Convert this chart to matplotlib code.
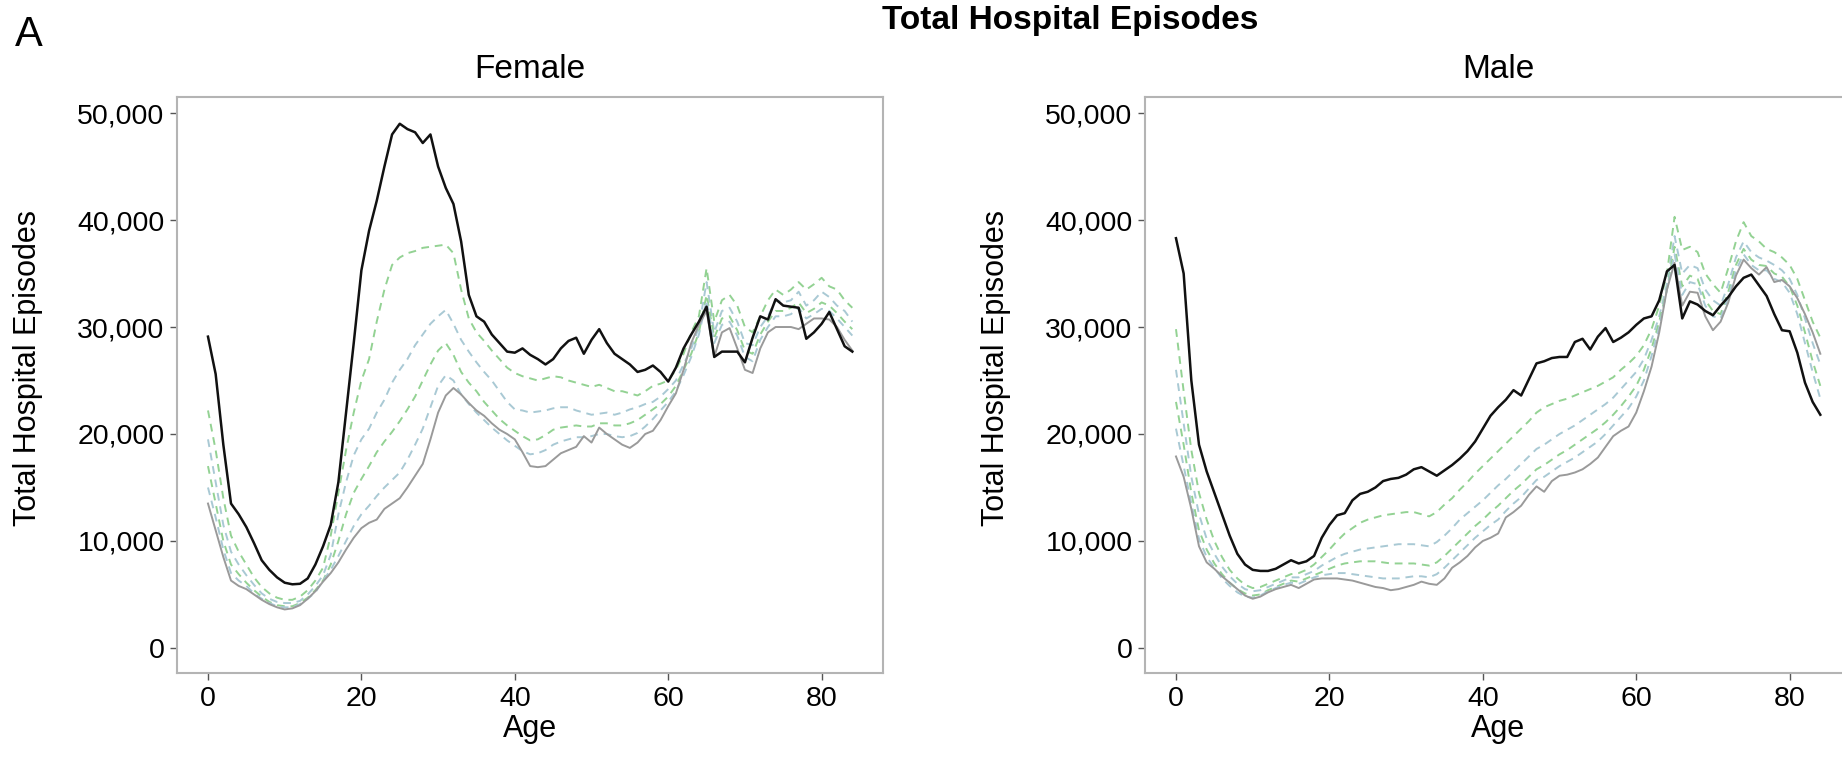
#!/usr/bin/env python
"""Total hospital episodes by age, female and male panels."""

import matplotlib
matplotlib.use("Agg")
import matplotlib.pyplot as plt
from matplotlib.ticker import FuncFormatter, MultipleLocator

# Data (ages 0..84)
ages = list(range(85))

female_black = [29100, 25600, 19000, 13500, 12500, 11300, 9800, 8200, 7300, 6600,
                6100, 5950, 6000, 6500, 7800, 9500, 11500, 15500, 22000, 28500,
                35300, 39000, 41800, 45000, 48000, 49000, 48500, 48200, 47200, 48000,
                45000, 43000, 41500, 38000, 33000, 31000, 30500, 29300, 28500, 27700,
                27600, 28000, 27400, 27000, 26500, 27000, 28000, 28700, 29000, 27500,
                28800, 29800, 28500, 27500, 27000, 26500, 25800, 26000, 26400, 25800,
                24900, 26200, 28000, 29300, 30500, 31900, 27200, 27700, 27700, 27700,
                26700, 29000, 31000, 30700, 32600, 32000, 31900, 31800, 28900, 29500,
                30300, 31400, 29800, 28200, 27700]
female_gray = [13500, 11000, 8500, 6300, 5800, 5500, 5000, 4500, 4100, 3800,
               3600, 3700, 4000, 4600, 5300, 6200, 7000, 8000, 9200, 10300,
               11200, 11700, 12000, 13000, 13500, 14000, 15000, 16100, 17200, 19500,
               22000, 23600, 24300, 23700, 22900, 22200, 21700, 21000, 20400, 20000,
               19500, 18300, 17000, 16900, 17000, 17600, 18200, 18500, 18800, 19800,
               19200, 20600, 20000, 19500, 19000, 18700, 19200, 20000, 20300, 21300,
               22600, 23800, 26000, 28500, 30200, 31500, 27200, 29500, 29900, 28000,
               26000, 25700, 28000, 29500, 30000, 30000, 30000, 29800, 30300, 30800,
               30800, 30700, 30000, 28800, 27800]
female_d1 = [22200, 18500, 14000, 10500, 9000, 7800, 6600, 5700, 5100, 4700,
             4500, 4500, 4800, 5400, 6300, 7500, 10500, 14500, 18500, 22000,
             25000, 27000, 30500, 33500, 35800, 36500, 36900, 37100, 37400, 37500,
             37600, 37700, 36900, 33500, 30800, 29500, 28700, 27800, 27000, 26200,
             25700, 25400, 25200, 25000, 25200, 25400, 25300, 25000, 24800, 24600,
             24400, 24600, 24300, 24000, 24000, 23800, 23600, 24000, 24500, 24700,
             25000, 26000, 27500, 29500, 31000, 35500, 30500, 32500, 33000, 32000,
             30000, 29500, 31000, 32500, 33500, 33000, 33500, 34200, 33500, 34000,
             34600, 33800, 33500, 32500, 31800]
female_d2 = [19500, 15500, 11500, 9000, 7800, 6800, 5900, 5100, 4600, 4300,
             4200, 4200, 4400, 5000, 5800, 6800, 8700, 12500, 15500, 18000,
             19500, 20500, 22000, 23200, 24800, 26000, 27000, 28300, 29300, 30300,
             31000, 31600, 30300, 28800, 27700, 26700, 25800, 25000, 24000, 23000,
             22300, 22200, 22000, 22100, 22200, 22400, 22500, 22500, 22200, 22000,
             21800, 21900, 22000, 21800, 22000, 22300, 22500, 22800, 23000, 23500,
             24200, 25000, 26500, 28000, 30000, 34200, 29500, 31500, 31800, 30500,
             28500, 28300, 30000, 31000, 32500, 32300, 32500, 33300, 32000, 32500,
             33300, 32800, 32000, 31500, 30500]
female_d3 = [17000, 13500, 10000, 7800, 6900, 6100, 5400, 4800, 4300, 4000,
             3900, 3900, 4200, 4700, 5400, 6300, 7800, 10000, 12500, 14500,
             15800, 17000, 18300, 19300, 20200, 21200, 22300, 23500, 25000, 26500,
             27800, 28500, 27400, 25800, 24800, 24000, 23000, 22200, 21400, 20800,
             20300, 19800, 19400, 19500, 19900, 20400, 20600, 20700, 20800, 20700,
             20700, 21000, 21000, 20800, 20800, 21000, 21300, 21800, 22300, 22800,
             23500, 24500, 26000, 27500, 29500, 33000, 29000, 30800, 31000, 29700,
             27800, 27500, 29300, 30500, 31500, 31500, 31800, 32300, 31300, 31700,
             32300, 32000, 31300, 30500, 29800]
female_d4 = [15000, 12200, 9200, 7000, 6300, 5800, 5100, 4600, 4200, 3900,
             3800, 3800, 4100, 4600, 5200, 6300, 7300, 8600, 10000, 11400,
             12500, 13300, 14200, 15000, 15700, 16400, 17600, 19000, 20500, 22500,
             24500, 25500, 25000, 23700, 22800, 22000, 21300, 20600, 20000, 19400,
             18900, 18400, 18100, 18200, 18500, 19000, 19300, 19500, 19700, 19700,
             19800, 20000, 20000, 19800, 19700, 19800, 20100, 20700, 21400, 22200,
             23000, 24000, 25500, 27200, 29300, 32500, 28500, 30200, 30500, 29200,
             27200, 26800, 28800, 30000, 31000, 31000, 31200, 31800, 30800, 31200,
             31700, 31500, 30800, 30000, 29200]

male_black = [38300, 35000, 25000, 19000, 16500, 14500, 12500, 10500, 8800, 7800,
              7300, 7200, 7200, 7400, 7800, 8200, 7900, 8100, 8600, 10300,
              11500, 12400, 12600, 13800, 14400, 14600, 15000, 15600, 15800, 15900,
              16200, 16700, 16900, 16500, 16100, 16600, 17100, 17700, 18400, 19300,
              20500, 21700, 22500, 23200, 24100, 23600, 25100, 26600, 26800, 27100,
              27200, 27200, 28600, 28900, 27900, 29100, 29900, 28600, 29000, 29500,
              30200, 30800, 31000, 32500, 35200, 35800, 30800, 32400, 32100, 31500,
              31100, 32000, 32800, 33800, 34600, 34900, 33900, 32900, 31200, 29700,
              29600, 27600, 24800, 23000, 21800]
male_gray = [17900, 16000, 13000, 9500, 8000, 7400, 6700, 6100, 5500, 4900,
             4600, 4800, 5200, 5500, 5700, 5900, 5600, 6000, 6400, 6500,
             6500, 6500, 6400, 6300, 6100, 5900, 5700, 5600, 5400, 5500,
             5700, 5900, 6200, 6000, 5900, 6500, 7500, 8000, 8600, 9400,
             10000, 10300, 10700, 12200, 12700, 13300, 14300, 15100, 14600, 15600,
             16100, 16200, 16400, 16700, 17200, 17800, 18800, 19800, 20300, 20700,
             22000, 24000, 26300, 29500, 33500, 36000, 32000, 33300, 33200, 31000,
             29700, 30500, 32300, 34800, 36300, 35500, 34900, 35600, 34200, 34400,
             33800, 32700, 31200, 29500, 27500]
male_d1 = [29800, 24000, 18500, 14500, 12000, 10000, 8500, 7300, 6500, 5900,
           5600, 5700, 6000, 6300, 6600, 6900, 7000, 7300, 7800, 8500,
           9200, 10000, 10700, 11200, 11700, 12000, 12200, 12400, 12500, 12600,
           12700, 12700, 12500, 12300, 12700, 13400, 14000, 14800, 15500, 16300,
           17000, 17700, 18400, 19100, 19800, 20500, 21200, 22000, 22500, 22800,
           23100, 23300, 23600, 23900, 24200, 24500, 24900, 25300, 26000, 26600,
           27300, 28300, 29800, 32000, 35000, 40300, 37200, 37500, 37000, 35000,
           34000, 33200, 35500, 38000, 39800, 38500, 38000, 37300, 37000, 36500,
           35800, 34500, 32500, 30500, 29000]
male_d2 = [26000, 21000, 16000, 12500, 10200, 8800, 7600, 6700, 6000, 5500,
           5300, 5400, 5700, 6000, 6300, 6600, 6600, 6900, 7200, 7700,
           8100, 8500, 8800, 9000, 9200, 9300, 9400, 9500, 9600, 9700,
           9700, 9700, 9600, 9500, 9900, 10500, 11200, 12000, 12600, 13200,
           13800, 14500, 15200, 15800, 16500, 17200, 17900, 18600, 19000, 19500,
           20000, 20400, 20800, 21300, 21800, 22300, 22800, 23400, 24200, 25000,
           25800, 27000, 28800, 31000, 34000, 38500, 35000, 35800, 35500, 33500,
           32500, 32000, 34000, 36500, 38000, 37000, 36500, 36200, 35800, 35300,
           34500, 33000, 30800, 28500, 26500]
male_d3 = [23000, 19000, 14500, 11000, 9200, 7900, 6900, 6100, 5500, 5100,
           4900, 5000, 5400, 5700, 6000, 6300, 6200, 6500, 6800, 7100,
           7400, 7700, 7900, 8000, 8100, 8100, 8100, 8000, 7900, 7900,
           7900, 7900, 7800, 7700, 8000, 8600, 9300, 10000, 10700, 11400,
           12000, 12700, 13300, 14000, 14700, 15300, 16000, 16700, 17100, 17600,
           18100, 18500, 19000, 19500, 20000, 20500, 21100, 21800, 22600, 23500,
           24500, 26000, 28000, 30500, 33500, 37500, 33800, 34800, 34500, 32500,
           31500, 31200, 33300, 35800, 37300, 36300, 35800, 35700, 35000, 34700,
           33800, 32000, 29500, 26800, 24500]
male_d4 = [20500, 17000, 13500, 10200, 8500, 7500, 6500, 5800, 5200, 4800,
           4700, 4900, 5300, 5600, 5900, 6100, 6000, 6300, 6600, 6800,
           6900, 7000, 7000, 6900, 6800, 6700, 6600, 6500, 6500, 6500,
           6600, 6700, 6700, 6600, 6900, 7500, 8200, 8900, 9600, 10300,
           10900, 11500, 12000, 12800, 13500, 14100, 14900, 15700, 16000, 16500,
           17000, 17400, 17800, 18300, 18800, 19300, 20000, 20800, 21600, 22400,
           23500, 25000, 27300, 30000, 33500, 36800, 33000, 34200, 34000, 32000,
           31000, 30800, 32800, 35300, 36800, 35800, 35300, 35300, 34500, 34200,
           33200, 31200, 28500, 25800, 23300]

panels = [
    ("Female", female_black, female_gray, [female_d1, female_d2, female_d3, female_d4]),
    ("Male", male_black, male_gray, [male_d1, male_d2, male_d3, male_d4]),
]

# Styles
dash_colors = ["#93d293", "#a9c9d4", "#93d293", "#a9c9d4"]
font = "Liberation Sans"
plt.rcParams["font.family"] = [font, "DejaVu Sans"]

W, H = 1842, 770
fig = plt.figure(figsize=(W / 100, H / 100), dpi=100)

# axes boxes in pixels: (left, top, right, bottom)
boxes = [(177, 97, 883, 673), (1145, 97, 1851, 673)]

for (name, black, gray, dashed), (l, t, r, b) in zip(panels, boxes):
    ax = fig.add_axes([l / W, (H - b) / H, (r - l) / W, (b - t) / H])
    for ys, c in zip(dashed, dash_colors):
        ax.plot(ages, ys, color=c, lw=1.4, dashes=(4, 3))
    ax.plot(ages, gray, color="#9a9a9a", lw=1.4)
    ax.plot(ages, black, color="#111111", lw=1.8)
    ax.set_xlim(-4.04, 88.0)
    ax.set_ylim(-2340, 51500)
    ax.xaxis.set_major_locator(MultipleLocator(20))
    ax.yaxis.set_major_locator(MultipleLocator(10000))
    ax.yaxis.set_major_formatter(FuncFormatter(lambda v, p: f"{int(v):,}"))
    for s in ax.spines.values():
        s.set_color("#b4b4b4")
        s.set_linewidth(1.5)
    ax.tick_params(direction="out", length=5, width=1, color="#555555",
                   labelsize=20.5, pad=4)
    ax.set_title(name, fontsize=24, pad=14)
    ax.set_xlabel("Age", fontsize=22, labelpad=2)
    ax.set_ylabel("Total Hospital Episodes", fontsize=22)
    ax.yaxis.set_label_coords(-0.19, 0.53)

fig.text(1070 / W, 1 - 21 / H, "Total Hospital Episodes", ha="center", va="center",
         fontsize=24, fontweight="bold")
fig.text(29 / W, 1 - 35 / H, "A", ha="center", va="center", fontsize=30)

fig.savefig("out.png", dpi=100)
